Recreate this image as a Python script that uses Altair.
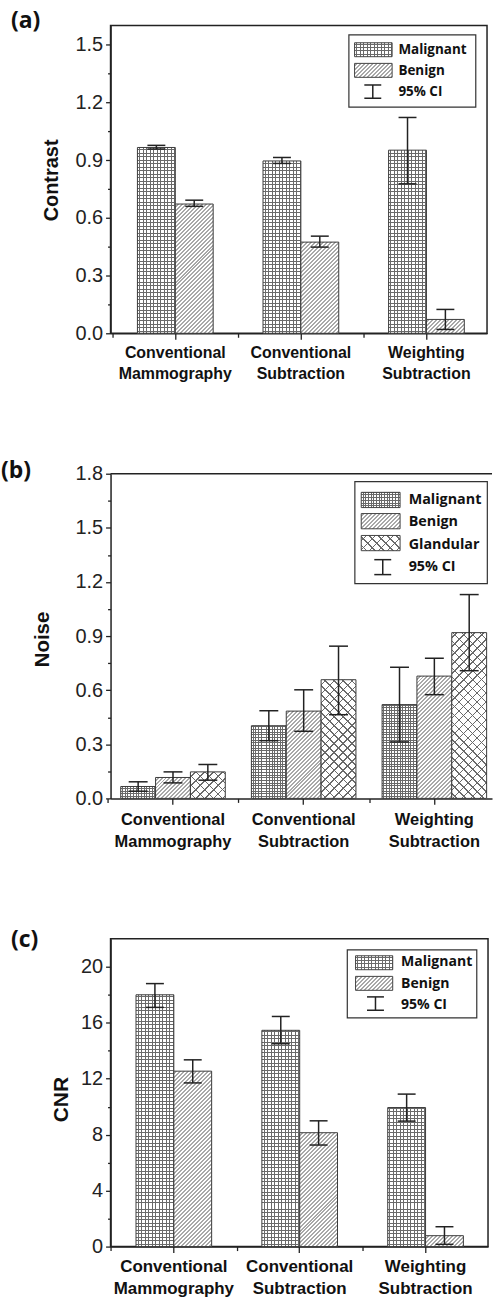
import altair as alt

# ------------------------------------------------------------------ data
CATEGORIES = ["Conventional Mammography", "Conventional Subtraction", "Weighting Subtraction"]

# (a) Contrast
A_SERIES = ["Malignant", "Benign"]
A_MAL = [0.966, 0.896, 0.952]
A_MAL_LO = [0.958, 0.883, 0.777]
A_MAL_HI = [0.977, 0.914, 1.122]
A_BEN = [0.672, 0.474, 0.072]
A_BEN_LO = [0.660, 0.448, 0.020]
A_BEN_HI = [0.692, 0.505, 0.124]

# (b) Noise
B_SERIES = ["Malignant", "Benign", "Glandular"]
B_MAL = [0.066, 0.403, 0.520]
B_MAL_LO = [0.040, 0.320, 0.313]
B_MAL_HI = [0.092, 0.486, 0.727]
B_BEN = [0.116, 0.484, 0.678]
B_BEN_LO = [0.086, 0.372, 0.575]
B_BEN_HI = [0.147, 0.602, 0.777]
B_GLA = [0.147, 0.658, 0.919]
B_GLA_LO = [0.101, 0.464, 0.708]
B_GLA_HI = [0.188, 0.844, 1.130]

# (c) CNR
C_SERIES = ["Malignant", "Benign"]
C_MAL = [18.0, 15.46, 9.94]
C_MAL_LO = [17.1, 14.5, 8.97]
C_MAL_HI = [18.8, 16.45, 10.9]
C_BEN = [12.54, 8.14, 0.78]
C_BEN_LO = [11.7, 7.26, 0.16]
C_BEN_HI = [13.35, 8.99, 1.42]

# axis ticks
A_MAJOR = [0.0, 0.3, 0.6, 0.9, 1.2, 1.5]
A_MINOR = [0.15, 0.45, 0.75, 1.05, 1.35]
B_MAJOR = [0.0, 0.3, 0.6, 0.9, 1.2, 1.5, 1.8]
B_MINOR = [0.15, 0.45, 0.75, 1.05, 1.35, 1.65]
C_MAJOR = [0, 4, 8, 12, 16, 20]
C_MINOR = [2, 6, 10, 14, 18]

CI_LABEL = "95% CI"
PANEL_TAGS = ["(a)", "(b)", "(c)"]
Y_TITLES = ["Contrast", "Noise", "CNR"]

# ------------------------------------------------------------------ pattern helpers
WHITE = "#ffffff"
CLEAR = "rgba(255,255,255,0)"
PATTERN = {"Malignant": "grid", "Benign": "hatch", "Glandular": "cross"}
LEGEND_FONT = "Open Sans"


def _r(x):
    return round(x, 5)


def stripe_stops(L, period, lw, line, bg):
    out = []

    def add(off, col):
        out.append({"offset": _r(min(1.0, max(0.0, off / L))), "color": col})

    add(0, bg)
    s = period / 2.0
    while s < L:
        e = min(L, s + lw)
        add(s, bg)
        add(s, line)
        add(e, line)
        add(e, bg)
        s += period
    add(L, bg)
    return out


def g_vert(w, h, p, lw, line, bg):
    return {"gradient": "linear", "x1": 0, "y1": 0, "x2": 1, "y2": 0,
            "stops": stripe_stops(w, p, lw, line, bg)}


def g_horz(w, h, p, lw, line, bg):
    return {"gradient": "linear", "x1": 0, "y1": 1, "x2": 0, "y2": 0,
            "stops": stripe_stops(h, p, lw, line, bg)}


def g_up(w, h, p, lw, line, bg):
    a = (w + h) / (w * w + h * h)
    return {"gradient": "linear", "x1": 0, "y1": 0, "x2": _r(a * w), "y2": _r(a * h),
            "stops": stripe_stops(w + h, p, lw, line, bg)}


def g_down(w, h, p, lw, line, bg):
    a = (w + h) / (w * w + h * h)
    return {"gradient": "linear", "x1": 0, "y1": 1, "x2": _r(a * w), "y2": _r(1 - a * h),
            "stops": stripe_stops(w + h, p, lw, line, bg)}


def fills(kind, w, h, pat):
    if kind == "grid":
        return (g_vert(w, h, pat["grid"], 1.0, pat["gridc"], WHITE),
                g_horz(w, h, pat["grid"], 1.0, pat["gridc"], CLEAR))
    if kind == "hatch":
        return g_up(w, h, pat["hatch"], pat["hatchw"], pat["hatchc"], WHITE), CLEAR
    return (g_up(w, h, pat["cross"], 1.4, pat["crossc"], WHITE),
            g_down(w, h, pat["cross"], 1.4, pat["crossc"], CLEAR))


ONE = [{"k": 0}]


def rect_px(x1, x2, y1, y2, fill, stroke=None, sw=1.0):
    kw = {"fill": fill}
    if stroke:
        kw.update(stroke=stroke, strokeWidth=sw)
    else:
        kw.update(strokeWidth=0)
    return alt.Chart(alt.Data(values=ONE)).mark_rect(**kw).encode(
        x=alt.value(x1), x2=alt.value(x2), y=alt.value(y1), y2=alt.value(y2))


def rule_px(x1, x2, y1, y2, color="#222222", sw=1.5, opacity=1.0):
    return alt.Chart(alt.Data(values=ONE)).mark_rule(
        color=color, strokeWidth=sw, opacity=opacity).encode(
        x=alt.value(x1), x2=alt.value(x2), y=alt.value(y1), y2=alt.value(y2))


def text_px(x, y, txt, fs, font, align="left"):
    return alt.Chart(alt.Data(values=ONE)).mark_text(
        text=txt, font=font, fontSize=fs, fontWeight="bold", align=align,
        baseline="middle", color="#111111").encode(x=alt.value(x), y=alt.value(y))


def legend_layers(lg, series, pat):
    layers = [rect_px(lg["box"][0], lg["box"][1], lg["box"][2], lg["box"][3],
                      WHITE, stroke="#333333", sw=1.2)]
    sx1, sx2 = lg["sx"]
    sw_ = sx2 - sx1
    for name, (y1, y2, ty) in zip(series, lg["rows"]):
        f1, f2 = fills(PATTERN[name], sw_, y2 - y1, pat)
        layers.append(rect_px(sx1, sx2, y1, y2, f1))
        layers.append(rect_px(sx1, sx2, y1, y2, f2, stroke="#444444", sw=1))
        layers.append(text_px(lg["tx"], ty, name, lg["fs"], LEGEND_FONT))
    cx, cy1, cy2, cty = lg["ci"]
    layers.append(rule_px(cx, cx, cy1, cy2))
    layers.append(rule_px(cx - 8.5, cx + 8.5, cy1, cy1))
    layers.append(rule_px(cx - 8.5, cx + 8.5, cy2, cy2))
    layers.append(text_px(lg["tx"], cty, CI_LABEL, lg["fs"], LEGEND_FONT))
    return layers


def panel(cfg):
    cats = CATEGORIES
    series = cfg["series"]
    n = len(series)
    W, H, dmax = cfg["W"], cfg["H"], cfg["dmax"]
    pi_, po_, al_ = cfg["pi"], cfg["po"], cfg["align"]
    step = W / (len(cats) - pi_ + 2 * po_)
    bandw = step * (1 - pi_)
    barw = bandw / n
    rows = []
    for s, name in enumerate(series):
        vals, los, his = cfg["vals"][s], cfg["los"][s], cfg["his"][s]
        for i, c in enumerate(cats):
            h = vals[i] / dmax * H
            g1, g2 = fills(PATTERN[name], barw, h, cfg["pat"])
            rows.append({"cat": c, "ser": name, "v": vals[i], "lo": los[i],
                         "hi": his[i], "g1": g1, "g2": g2})

    xscale = alt.Scale(domain=cats, paddingInner=pi_, paddingOuter=po_, align=al_)
    xaxis = alt.Axis(title=None, labelAngle=0, labelExpr="split(datum.label, ' ')",
                     labelFont="Liberation Sans", labelFontWeight="bold",
                     labelFontSize=cfg["xfs"], labelLineHeight=cfg["xlh"],
                     labelPadding=cfg["xpad"], labelColor="#111111",
                     tickSize=6, tickColor="#222222", tickWidth=1.3,
                     domainColor="#222222", domainWidth=1.5)
    xminor = alt.Axis(title=None, orient="bottom", labels=False, domain=False,
                      ticks=True, tickSize=4, tickColor="#222222", tickWidth=1.3,
                      bandPosition=0, tickOffset=-step * pi_ / 2)
    yaxis = alt.Axis(title=cfg["ytitle"], values=cfg["ymajor"], format=cfg["fmt"],
                     orient="left", labelOverlap=False, tickSize=5,
                     tickColor="#222222", tickWidth=1.3, domainColor="#222222",
                     domainWidth=1.5, labelFont="Liberation Sans", labelFontSize=20,
                     labelColor="#222222", labelPadding=3,
                     titleFont="Liberation Sans", titleFontWeight="bold",
                     titleFontSize=cfg["tfs"], titleColor="#111111",
                     titleAngle=270, titleAlign="center", titleBaseline="alphabetic",
                     titleX=cfg["tx"], titleY=cfg["ty"])
    yminor = alt.Axis(title=None, values=cfg["yminor"], orient="left", labels=False,
                      domain=False, tickSize=3, tickColor="#222222", tickWidth=1.3)

    def X(axis):
        return alt.X("cat:N", scale=xscale, axis=axis)

    ysc = alt.Scale(domain=[0, dmax], nice=False, zero=True)
    base = alt.Chart(alt.Data(values=rows))

    layers = []
    for s, name in enumerate(series):
        off = _r((s - (n - 1) / 2.0) * barw)
        first = s == 0
        sb = base.transform_filter(alt.datum.ser == name)
        bars1 = sb.mark_bar(strokeWidth=0, width=_r(barw), xOffset=off).encode(
            x=X(xaxis if first else None),
            y=alt.Y("v:Q", scale=ysc, axis=yaxis if first else None, stack=None),
            fill=alt.Fill("g1:N", scale=None))
        bars2 = sb.mark_bar(stroke="#3a3a3a", strokeWidth=1, width=_r(barw),
                            xOffset=off).encode(
            x=X(None),
            y=alt.Y("v:Q", scale=ysc, axis=None, stack=None),
            fill=alt.Fill("g2:N", scale=None))
        layers += [bars1, bars2]
    for s, name in enumerate(series):
        off = _r((s - (n - 1) / 2.0) * barw)
        first = s == 0
        sb = base.transform_filter(alt.datum.ser == name)
        err = sb.mark_rule(color="#222222", strokeWidth=1.5, xOffset=off).encode(
            x=X(xminor if first else None),
            y=alt.Y("lo:Q", scale=ysc, axis=yminor if first else None), y2="hi:Q")
        caps = sb.transform_fold(["lo", "hi"], as_=["kind", "cv"]).mark_point(
            shape="M-1,0H1", size=cfg["cap"] ** 2, filled=False, color="#222222",
            strokeWidth=1.5, opacity=1, xOffset=off).encode(
            x=X(None), y=alt.Y("cv:Q", scale=ysc, axis=None))
        layers += [err, caps]

    layers += legend_layers(cfg["legend"], series, cfg["pat"])
    tx, ty = cfg["tag_xy"]
    layers.append(text_px(tx, ty, cfg["tag"], 23, "Open Sans"))
    layers += cfg.get("extra", [])
    ch = alt.layer(*layers).resolve_axis(x="independent", y="independent").properties(
        width=W, height=H)
    if cfg.get("noframe"):
        ch = ch.properties(view=alt.ViewBackground(stroke="transparent"))
    return ch


PAT_AC = {"grid": 3.5, "gridc": "#6a6a6a", "hatch": 4.0, "hatchw": 2.0,
          "hatchc": "#a8a8a8", "cross": 9.0, "crossc": "#6a6a6a"}
PAT_B = {"grid": 2.7, "gridc": "#6a6a6a", "hatch": 4.0, "hatchw": 2.0,
         "hatchc": "#a8a8a8", "cross": 9.0, "crossc": "#6a6a6a"}

cfg_a = dict(
    series=A_SERIES, vals=[A_MAL, A_BEN], los=[A_MAL_LO, A_BEN_LO], his=[A_MAL_HI, A_BEN_HI],
    W=378, H=309, dmax=1.6, pi=0.397, po=0.1975, align=0.542,
    xfs=16, xlh=21, xpad=5, ymajor=A_MAJOR, yminor=A_MINOR, fmt=".1f",
    ytitle=Y_TITLES[0], tfs=20, tx=-53, ty=155, cap=18, pat=PAT_AC,
    legend=dict(box=(239.3, 366.7, 9.3, 82), sx=(245, 282.7),
                rows=[(17.3, 31.3, 24.3), (38, 52, 45.7)],
                ci=(263.3, 59.7, 73, 66.3), tx=289, fs=13.5),
    tag=PANEL_TAGS[0], tag_xy=(-100, -5),
    extra=[rule_px(-110, -110, -22, -22, sw=0, opacity=0)],
)

cfg_b = dict(
    series=B_SERIES, vals=[B_MAL, B_BEN, B_GLA], los=[B_MAL_LO, B_BEN_LO, B_GLA_LO],
    his=[B_MAL_HI, B_BEN_HI, B_GLA_HI],
    W=383, H=326, dmax=1.8, pi=0.2, po=0.0595, align=0.654,
    xfs=16.5, xlh=22, xpad=7, ymajor=B_MAJOR, yminor=B_MINOR, fmt=".1f",
    ytitle=Y_TITLES[1], tfs=20.5, tx=-62, ty=166, cap=19, pat=PAT_B,
    legend=dict(box=(245.3, 378.3, 8, 110.3), sx=(251.7, 290.7),
                rows=[(18.7, 34, 26.7), (40, 55.3, 48.7), (62, 77.3, 71.3)],
                ci=(273.3, 86.3, 101.3, 93.7), tx=299.3, fs=14.4),
    tag=PANEL_TAGS[1], tag_xy=(-110, -3), noframe=True,
    extra=[rule_px(0, 383, 0, 0, sw=1.5)],
)

cfg_c = dict(
    series=C_SERIES, vals=[C_MAL, C_BEN], los=[C_MAL_LO, C_BEN_LO], his=[C_MAL_HI, C_BEN_HI],
    W=379, H=309, dmax=22, pi=0.399, po=0.199, align=0.508,
    xfs=17, xlh=22, xpad=6, ymajor=C_MAJOR, yminor=C_MINOR, fmt="d",
    ytitle=Y_TITLES[2], tfs=21, tx=-43, ty=161, cap=18, pat=PAT_AC,
    legend=dict(box=(237.7, 367.7, 11, 79.3), sx=(246, 283.3),
                rows=[(17, 31, 23.7), (37.7, 51.7, 45)],
                ci=(266, 58.3, 71.7, 66), tx=291.7, fs=14.1),
    tag=PANEL_TAGS[2], tag_xy=(-100, 1),
)

chart = alt.vconcat(panel(cfg_a), panel(cfg_b), panel(cfg_c), spacing=141).properties(
    bounds="flush", padding=0, background="white"
).configure_view(stroke="#222222", strokeWidth=1.5).configure_axis(grid=False)

chart.save("out.html", embed_options={"renderer": "svg", "actions": False})
